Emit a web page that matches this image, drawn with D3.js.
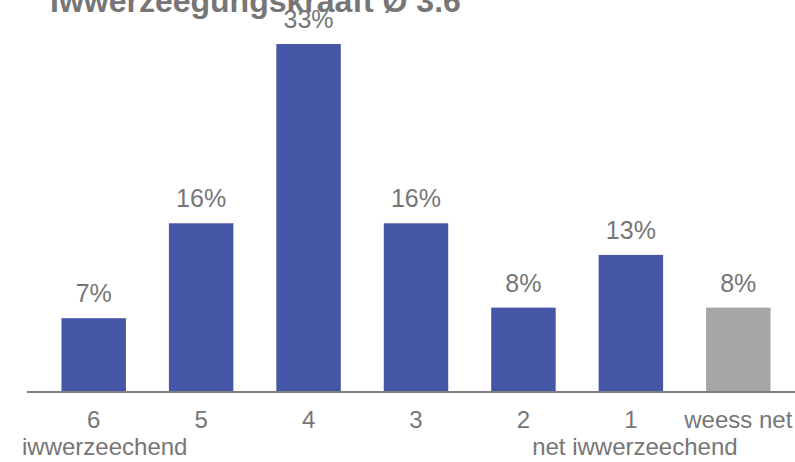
<!DOCTYPE html>
<meta charset="utf-8">
<script src="https://cdn.jsdelivr.net/npm/d3@7"></script>
<style>
body { margin: 0; background: #fff; }
text { font-family: "Liberation Sans", Arial, sans-serif; fill: #767676; }
</style>
<body>
<div id="chart"></div>
<script>
var categories = ["6", "5", "4", "3", "2", "1", "weess net"]
var subLabels = ["iwwerzeechend", "", "", "", "", "net iwwerzeechend", ""]
var values = [7, 16, 33, 16, 8, 13, 8]
var title = "Iwwerzeegungskraaft \u00D8 3.6"

var width = 795, height = 462
var baseY = 392
// the second-line labels sit a bit right of the bar centre
var subShift = [11, 0, 0, 0, 0, 4, 0]

var svg = d3.select("#chart").append("svg")
  .attr("width", width)
  .attr("height", height)

var x = d3.scaleBand()
  .domain(categories)
  .range([40, 792])
  .paddingInner(0.4)
  .paddingOuter(0.2)

var y = d3.scaleLinear()
  .domain([0, 33])
  .range([baseY, 44])

// bars
svg.selectAll("rect.bar")
  .data(values)
  .enter()
  .append("rect")
  .attr("class", "bar")
  .attr("x", function(d, i){ return x(categories[i]) })
  .attr("width", x.bandwidth())
  .attr("y", function(d){ return y(d) })
  .attr("height", function(d){ return baseY - y(d) })
  .attr("fill", function(d, i){ return categories[i] == "weess net" ? "#a6a6a6" : "#4656a6" })

// value labels
svg.selectAll("text.val")
  .data(values)
  .enter()
  .append("text")
  .attr("class", "val")
  .attr("x", function(d, i){ return x(categories[i]) + x.bandwidth()/2 })
  .attr("y", function(d){ return y(d) - 16 })
  .attr("text-anchor", "middle")
  .style("font-size", "25px")
  .text(function(d){ return d + "%" })

// x axis
var xAxis = d3.axisBottom(x).tickSize(0).tickPadding(19)
var gx = svg.append("g")
  .attr("transform", "translate(0," + baseY + ")")
  .call(xAxis)
gx.select(".domain").remove()
gx.selectAll("text")
  .style("font-size", "24px")
  .attr("fill", "#767676")
  .style("font-family", "'Liberation Sans', Arial, sans-serif")

svg.append("line")
  .attr("x1", 27).attr("x2", 795)
  .attr("y1", baseY).attr("y2", baseY)
  .attr("stroke", "#7f7f7f")
  .attr("stroke-width", 2)

// second line under the ticks
svg.selectAll("text.sub")
  .data(subLabels)
  .enter()
  .append("text")
  .attr("class", "sub")
  .attr("x", function(d, i){ return x(categories[i]) + x.bandwidth()/2 + subShift[i] })
  .attr("y", 455)
  .attr("text-anchor", "middle")
  .style("font-size", "24px")
  .text(function(d){ return d })

// title (cut off at the top like the original)
svg.append("text")
  .attr("x", 50)
  .attr("y", 12)
  .style("font-size", "32px")
  .style("font-weight", "bold")
  .text(title)
</script>
</body>
</html>
